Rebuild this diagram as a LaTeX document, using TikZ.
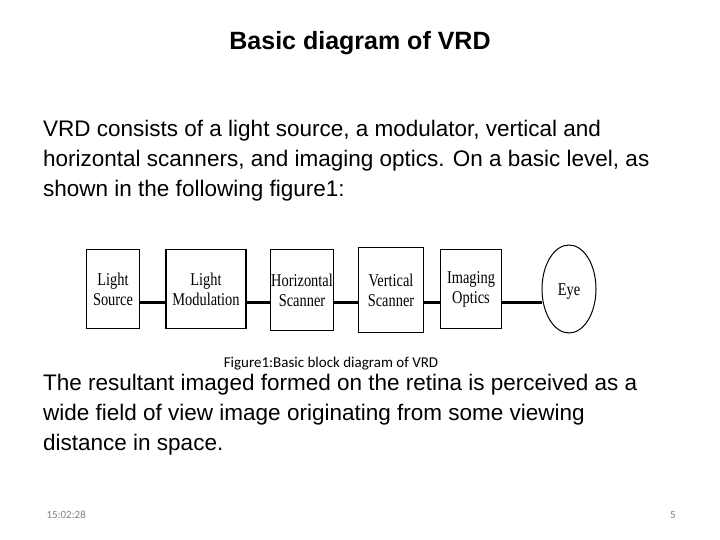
\documentclass[tikz,border=0pt]{standalone}
\usepackage{fontspec}
\setmainfont{Liberation Sans}
\newfontfamily\blockfont[FakeStretch=0.8]{Liberation Serif}
\newfontfamily\capfont{Carlito}
\usetikzlibrary{positioning}
\tikzset{
  blk/.style={draw,line width=1.2pt,minimum height=79pt,align=center,inner sep=1pt,font=\blockfont\fontsize{18}{20}\selectfont},
  link/.style={line width=3pt},
  body/.style={anchor=north west,align=flush left,text width=625pt,font=\fontsize{22.5}{30}\selectfont,inner sep=0pt}
}
\begin{document}
\begin{tikzpicture}[x=1pt,y=-1pt]
    \useasboundingbox (0,0) rectangle (720,540);
    % title and text
    \node[font=\bfseries\fontsize{25}{28}\selectfont] (title) at (360,43) {Basic diagram of VRD};
    \node[body] (intro) at (43,120) {VRD consists of a light source, a modulator, vertical and horizontal scanners, and imaging optics. On a basic level, as shown in the following figure1:};
    % blocks
    \node[blk,minimum width=53pt] (src) at (113,289) {Light\\Source};
    \node[blk,minimum width=80pt] (mod) at (206,289) {Light\\Modulation};
    \node[blk,minimum width=61pt,minimum height=81pt] (hor) at (302,290) {Horizontal\\Scanner};
    \node[blk,minimum width=65pt,minimum height=85pt] (ver) at (391,290) {Vertical\\Scanner};
    \node[blk,minimum width=61pt] (img) at (471,289) {Imaging\\Optics};
    \draw[line width=1pt] (569,289) ellipse (27pt and 44pt);
    \node[font=\blockfont\fontsize{18}{20}\selectfont] (eye) at (569,292) {Eye};
    \coordinate (eyel) at (542,302);
    % links
    \draw[link] (src.east|-0,302) -- (mod.west|-0,302);
    \draw[link] (mod.east|-0,302) -- (hor.west|-0,302);
    \draw[link] (hor.east|-0,302) -- (ver.west|-0,302);
    \draw[link] (ver.east|-0,302) -- (img.west|-0,302);
    \draw[link] (img.east|-0,302) -- (eyel);
    % caption and closing text
    \node[font=\capfont\fontsize{15}{17}\selectfont] (cap) at (331,364) {Figure1:Basic block diagram of VRD};
    \node[body] (outro) at (43,374) {The resultant imaged formed on the retina is perceived as a wide field of view image originating from some viewing distance in space.};
    % footer
    \node[font=\capfont\fontsize{11}{12}\selectfont,text=gray,anchor=west] (time) at (43,515) {15:02:28};
    \node[font=\capfont\fontsize{11}{12}\selectfont,text=gray] (page) at (673,515) {5};
\end{tikzpicture}
\end{document}
